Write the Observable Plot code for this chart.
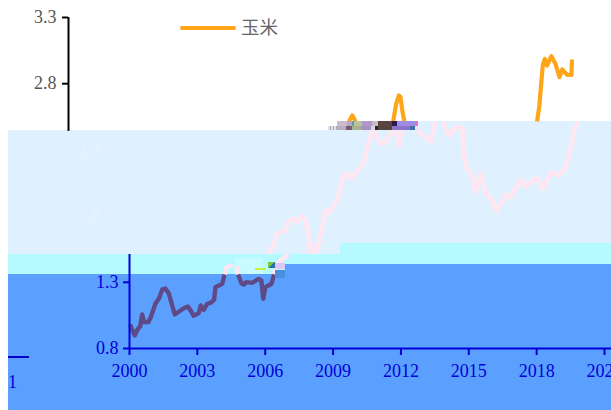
<!DOCTYPE html>
<html>
<head>
<meta charset="utf-8">
<script src="https://cdn.jsdelivr.net/npm/d3@7"></script>
<script src="https://cdn.jsdelivr.net/npm/@observablehq/plot@0.6"></script>
<style>
html,body{margin:0;padding:0;background:#fff;overflow:hidden}
#stage{position:relative;width:611px;height:410px;overflow:hidden;font-family:"Liberation Serif",serif}
.layer{position:absolute;left:0;top:0;width:611px;height:410px}
.abs{position:absolute}
#stage svg{position:absolute;left:0;top:0;z-index:1;background:transparent}
#stage svg text{font-family:"Liberation Serif",serif;font-size:18px}
</style>
</head>
<body>
<div id="stage">
  <div class="layer" style="background:#dff0ff;clip-path:polygon(8px 130px,418px 130px,418px 121px,611px 121px,611px 243px,340px 243px,340px 254px,8px 254px)"></div>
  <div class="layer" style="background:#b5faff;clip-path:polygon(8px 254px,340px 254px,340px 243px,611px 243px,611px 264px,285px 264px,285px 274px,8px 274px)"></div>
  <div class="layer" style="background:#5ca0ff;clip-path:polygon(8px 274px,285px 274px,285px 264px,611px 264px,611px 410px,8px 410px)"></div>
  <div class="abs" style="left:235px;top:258px;width:28px;height:16px;background:#c8fbff"></div>
  <div class="abs" style="left:306px;top:243px;width:10px;height:11px;background:#f1e9f8"></div>
  <div class="abs" style="left:328px;top:126px;width:9px;height:4px;z-index:2;background:repeating-linear-gradient(90deg,#dfe0ea 0 2px,#a9a9b8 2px 3px)"></div>
  <div class="abs" style="left:337px;top:121px;width:81px;height:5px;z-index:2;background:linear-gradient(90deg,#cbbad0 0 10px,#b8a8c0 10px 15px,#6e9a9a 15px 17px,#bcc2a0 17px 25px,#b09ac8 25px 35px,#c8bcc8 35px 41px,#5b463f 41px 55px,#2a1c50 55px 60px,#a08ce4 60px 78px,#e070d8 78px 81px)"></div>
  <div class="abs" style="left:337px;top:126px;width:81px;height:4px;z-index:2;background:linear-gradient(90deg,#b9aec0 0 9px,#7a5a70 9px 15px,#a8b090 15px 24px,#a890c4 24px 34px,#d8d8d8 34px 38px,#302830 38px 41px,#57443e 41px 55px,#8c72c8 55px 73px,#3f6ea8 73px 78px,#f0e0f0 78px 81px)"></div>
  <div class="abs" style="left:255px;top:268px;width:11px;height:2px;z-index:2;background:#c8f03c"></div>
  <div class="abs" style="left:268px;top:262px;width:7px;height:6px;z-index:2;background:linear-gradient(135deg,#7cc83c 0 50%,#2a6fb0 50%)"></div>
  <div class="abs" style="left:275px;top:263px;width:10px;height:6px;z-index:2;background:#dcc8f4"></div>
  <div class="abs" style="left:275px;top:270px;width:10px;height:8px;z-index:2;background:#4a8ee0"></div>
  <div class="abs" style="left:8px;top:356px;width:21px;height:2px;z-index:2;background:#0000c8"></div>
  <div class="abs" style="left:8px;top:372px;z-index:2;color:#0000d8;font-size:18px;line-height:20px">1</div>
  <div class="abs" style="left:180px;top:26px;width:56px;height:4px;border-radius:2px;z-index:2;background:#ffa51a"></div>
  <div class="abs" style="left:241px;top:15px;z-index:2;color:#666;font:18.5px/22px 'Noto Sans CJK SC',sans-serif">玉米</div>
</div>
<script>
const years = [2000, 2003, 2006, 2009, 2012, 2015, 2018, 2021];
const ticksTop = [3.3, 2.8];
const ticksFaint = [2.3, 1.8];
const ticksLow = [1.3, 0.8];

// The corn price series, split where the picture breaks it: [year, value]
const cornTopA = [[2009.70,2.515],[2009.85,2.560],[2010.00,2.515]];
const cornTopB = [[2011.66,2.515],[2011.79,2.650],[2011.91,2.711],[2011.98,2.698],[2012.06,2.598],[2012.15,2.515]];
const cornTopC = [[2018.02,2.515],[2018.12,2.635],[2018.27,2.937],[2018.36,2.988],[2018.46,2.937],[2018.65,3.008],[2018.83,2.950],[2019.01,2.849],[2019.13,2.907],[2019.35,2.867],[2019.54,2.867],[2019.56,2.983]];

const cornPaleA = [[2006.10,1.517],[2006.38,1.578],[2006.50,1.666],[2006.90,1.691],[2007.04,1.767],[2007.26,1.780],[2007.38,1.754],[2007.64,1.805],[2007.78,1.767],[2008.08,1.517]];
const cornPaleB = [[2008.22,1.517],[2008.37,1.593],[2008.66,1.842],[2008.81,1.829],[2009.18,1.918],[2009.45,2.107],[2009.65,2.119],[2009.80,2.084],[2010.14,2.157],[2010.34,2.197],[2010.58,2.358],[2010.73,2.447]];
const cornPaleC = [[2010.79,2.447],[2011.10,2.348],[2011.32,2.358],[2011.63,2.447]];
const cornPaleD = [[2011.78,2.447],[2011.91,2.333],[2012.03,2.447]];
const cornPaleE = [[2012.72,2.447],[2013.31,2.363],[2013.53,2.515]];
const cornPaleF = [[2013.87,2.515],[2014.12,2.409],[2014.49,2.477],[2014.71,2.462],[2014.85,2.167],[2015.11,2.122],[2015.30,1.978],[2015.52,2.122],[2015.74,1.978],[2015.96,1.941],[2016.23,1.835],[2016.62,1.963],[2016.85,1.941],[2017.29,2.076],[2017.51,2.024],[2017.99,2.092],[2018.30,2.008],[2018.61,2.129],[2018.96,2.107],[2019.28,2.160],[2019.57,2.356],[2019.64,2.447],[2019.82,2.515]];
const cornPaleG = [[2004.20,1.359],[2004.29,1.412],[2004.55,1.434]];
const cornPaleH = [[2004.73,1.419],[2004.80,1.359]];
const cornPaleI = [[2006.39,1.359],[2006.54,1.442],[2006.85,1.487],[2007.03,1.510]];

const cornLowA = [[2000.03,0.981],[2000.23,0.898],[2000.38,0.951],[2000.47,0.966],[2000.56,1.057],[2000.65,0.999],[2000.83,0.999],[2000.94,1.036],[2001.15,1.140],[2001.30,1.178],[2001.45,1.246],[2001.59,1.253],[2001.74,1.215],[2002.00,1.057],[2002.40,1.104],[2002.58,1.117],[2002.65,1.102],[2002.84,1.047],[2003.06,1.067],[2003.15,1.125],[2003.28,1.092],[2003.44,1.138],[2003.58,1.145],[2003.74,1.168],[2003.80,1.263],[2003.95,1.276],[2004.10,1.289],[2004.20,1.359]];
const cornLowB = [[2004.80,1.359],[2004.95,1.293],[2005.05,1.283],[2005.16,1.301],[2005.42,1.296],[2005.71,1.326],[2005.83,1.314],[2005.91,1.175],[2006.01,1.263],[2006.28,1.289],[2006.39,1.359]];

const ink = "#0000d8";
const piece = (data, stroke, strokeWidth) => Plot.line(data, {
  x: d => d[0], y: d => d[1], stroke, strokeWidth,
  strokeLinejoin: "round", strokeLinecap: "butt", curve: "linear"
});

const chart = Plot.plot({
  width: 611, height: 410,
  marginLeft: 129, marginRight: 7, marginTop: 17, marginBottom: 62,
  style: {background: "transparent", fontFamily: "'Liberation Serif',serif", fontSize: "18px", overflow: "hidden"},
  x: {type: "linear", domain: [2000, 2021], label: null},
  y: {type: "linear", domain: [0.8, 3.3], label: null},
  marks: [
    ...[cornTopA, cornTopB, cornTopC].map(d => piece(d, "#ffa51a", 4.2)),
    ...[cornPaleA, cornPaleB, cornPaleC, cornPaleD, cornPaleE, cornPaleF, cornPaleG, cornPaleH, cornPaleI].map(d => piece(d, "#ffe6f1", 4.6)),
    ...[cornLowA, cornLowB].map(d => piece(d, "#5f4a88", 4.4)),
    // upper axis sits further left than the lower one in the picture
    Plot.ruleX([0], {x: () => 2000, y1: 2.44, y2: 3.3, dx: -61, stroke: "#000", strokeWidth: 2}),
    Plot.axisY(ticksTop, {anchor: "left", dx: -61, stroke: "#000", fill: "#555", strokeWidth: 2, tickSize: 6, tickPadding: 6, tickFormat: d3.format(".1f"), label: null}),
    Plot.axisY(ticksFaint, {anchor: "left", dx: -29, stroke: "none", fill: "#e8f3ff", tickSize: 0, tickPadding: 0, tickFormat: d3.format(".1f"), label: null}),
    Plot.ruleX([0], {x: () => 2000, y1: 0.8, y2: 1.51, stroke: ink, strokeWidth: 2}),
    Plot.axisY(ticksLow, {anchor: "left", stroke: ink, fill: ink, strokeWidth: 2, tickSize: 6, tickPadding: 5, tickFormat: d3.format(".1f"), label: null}),
    Plot.ruleY([0.8], {x1: 2000, x2: 2021.4, stroke: ink, strokeWidth: 2}),
    Plot.axisX(years, {anchor: "bottom", stroke: ink, fill: ink, strokeWidth: 2, tickSize: 7, tickPadding: 9, tickFormat: d3.format("d"), label: null})
  ]
});
document.getElementById("stage").appendChild(chart);
</script>
</body>
</html>
